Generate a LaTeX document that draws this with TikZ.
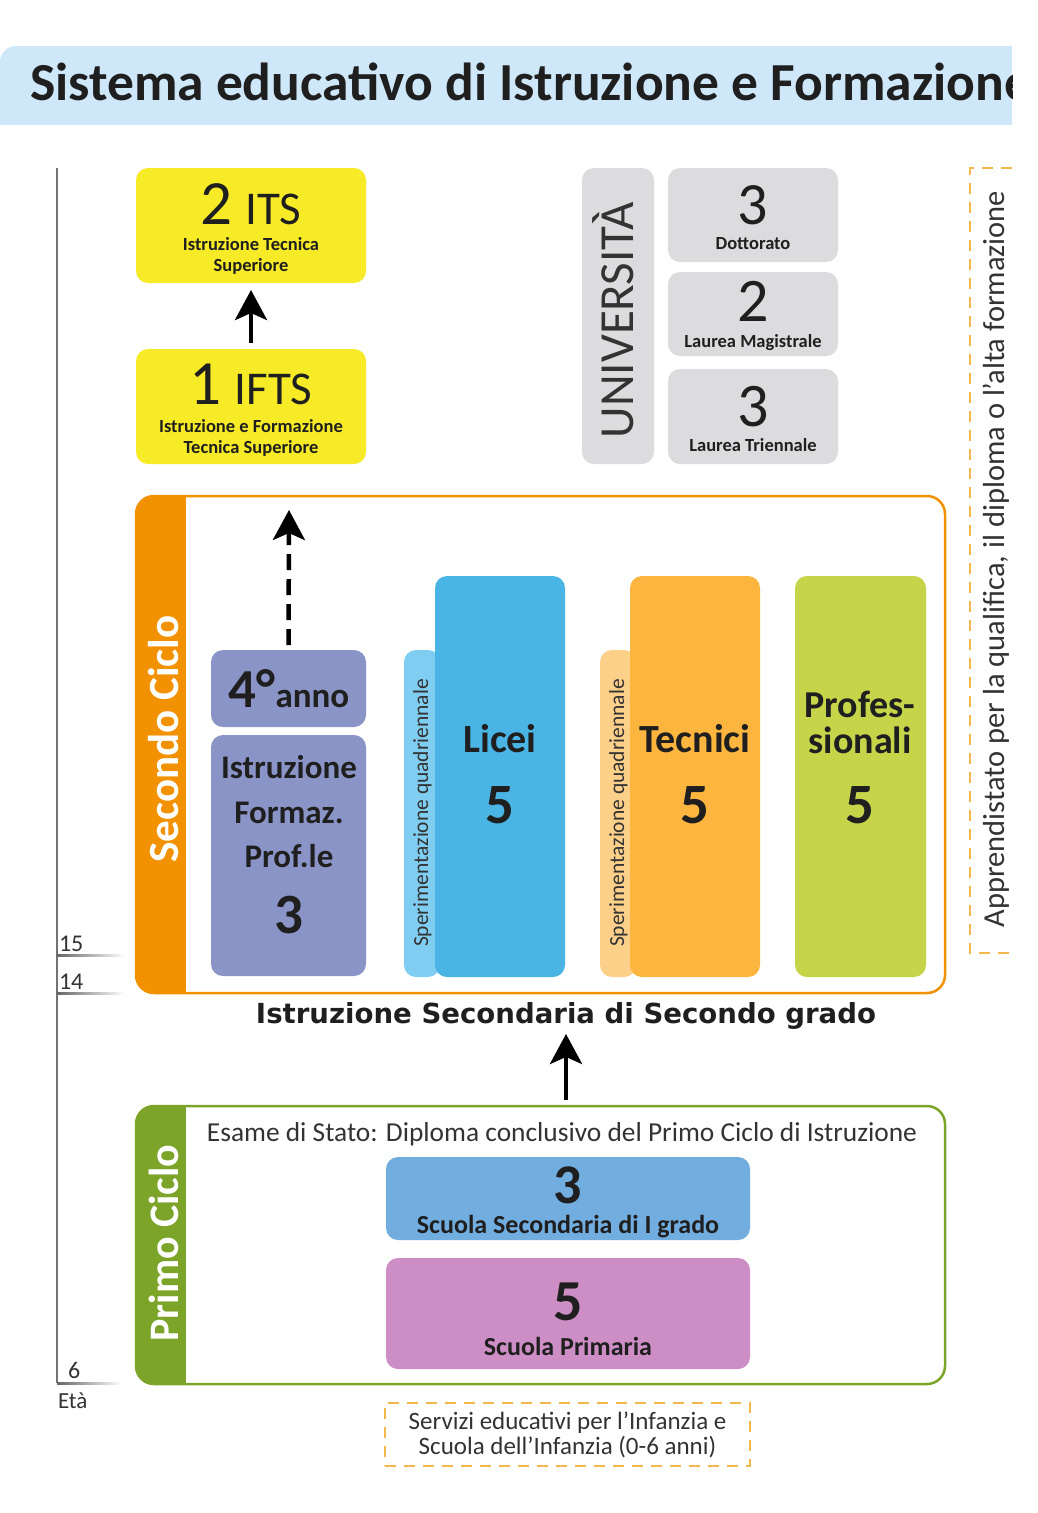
\documentclass[tikz,border=0pt]{standalone}
\usepackage{fontspec}
\usepackage{graphicx}
\setmainfont{Carlito}
\newfontfamily\dejavu{DejaVu Sans}
\usetikzlibrary{arrows.meta,calc}
\definecolor{titlebg}{HTML}{CFE8F9}
\definecolor{ylw}{HTML}{F7EA26}
\definecolor{unigrey}{HTML}{DCDCDE}
\definecolor{org}{HTML}{F39200}
\definecolor{purp}{HTML}{8B94C7}
\definecolor{liceo}{HTML}{4AB4E5}
\definecolor{liceol}{HTML}{80CDF2}
\definecolor{tecn}{HTML}{FCB53F}
\definecolor{tecnl}{HTML}{FDD089}
\definecolor{profc}{HTML}{C6D44A}
\definecolor{grn}{HTML}{7BA428}
\definecolor{secb}{HTML}{72ADE0}
\definecolor{prim}{HTML}{CD8EC5}
\definecolor{dashc}{HTML}{F2B84B}
\definecolor{txt}{HTML}{1F1F1F}
\definecolor{txtg}{HTML}{333333}
\newcommand{\fsz}[1]{\fontsize{#1}{#1}\selectfont}
\begin{document}
\begin{tikzpicture}[x=1pt,y=-1pt,
  every node/.style={inner sep=0pt, outer sep=0pt},
  blk/.style={rounded corners=12pt},
  lbl/.style={anchor=base, text=txt, align=center},
  rlbl/.style={anchor=base, rotate=90, text=txtg},
  arr/.style={line width=4.5pt, -{Stealth[length=30pt,width=32pt,inset=7pt]}},
  frame/.style={line width=2.5pt, rounded corners=18pt},
  dashbox/.style={draw=dashc, line width=2.5pt, dash pattern=on 11pt off 8pt},
  axis/.style={draw=black!55, line width=2pt},
]
\useasboundingbox (0,0) rectangle (1037,1513);
\fill[white] (0,0) rectangle (1037,1513);

% title
\begin{scope}
\clip[rounded corners=16pt] (0,46) rectangle (1080,170);
\clip (0,0) rectangle (1012,125);
\fill[titlebg] (0,46) rectangle (1012,125);
\node[anchor=base west, text=txt] (title) at (30,100) {\fsz{53.5}\bfseries Sistema educativo di Istruzione e Formazione};
\end{scope}

% age axis
\coordinate (axtop) at (57,168);
\coordinate (axbot) at (57,1383);
\draw[axis] (axtop) -- (axbot);
\shade[left color=black!60, right color=white] (57,954) rectangle (125,956.5);
\shade[left color=black!60, right color=white] (57,992) rectangle (125,994.5);
\shade[left color=black!60, right color=white] (57,1382) rectangle (122,1384.5);
\node[anchor=base west, text=txtg] (a15) at (59,951) {\fsz{24}15};
\node[anchor=base west, text=txtg] (a14) at (59,989) {\fsz{24}14};
\node[anchor=base west, text=txtg] (a6) at (68,1378) {\fsz{24}6};
\node[anchor=base west, text=txtg] (eta) at (58,1408) {\fsz{23}Età};

% ITS / IFTS
\node[blk, fill=ylw, minimum width=230pt, minimum height=115pt] (its) at (251,225.5) {};
\node[blk, fill=ylw, minimum width=230pt, minimum height=115pt] (ifts) at (251,406.5) {};
\node[lbl] (itsn) at (251,224) {{\fsz{63}2}\hspace{13pt}{\fsz{47}ITS}};
\node[lbl] (itst) at (251,250) {\fsz{18.5}\bfseries Istruzione Tecnica};
\node[lbl] (itst2) at (251,271) {\fsz{18.5}\bfseries Superiore};
\node[lbl] (iftsn) at (251,404) {{\fsz{63}1}\hspace{13pt}{\fsz{47}IFTS}};
\node[lbl] (iftst) at (251,432) {\fsz{18.5}\bfseries Istruzione e Formazione};
\node[lbl] (iftst2) at (251,453) {\fsz{18.5}\bfseries Tecnica Superiore};
\draw[arr, shorten <=6pt, shorten >=7pt] (ifts.north) -- (its.south);

% Universita
\node[blk, fill=unigrey, minimum width=72pt, minimum height=296pt] (univ) at (618,316) {};
\node[rlbl] (univt) at (633,320) {\fsz{49}UNIVERSITÀ};
\node[blk, fill=unigrey, minimum width=170pt, minimum height=94pt] (dott) at (753,215) {};
\node[blk, fill=unigrey, minimum width=170pt, minimum height=84pt] (mag) at (753,314) {};
\node[blk, fill=unigrey, minimum width=170pt, minimum height=95pt] (tri) at (753,416.5) {};
\node[lbl] (dottn) at (753,224) {\fsz{60}3};
\node[lbl] (dottt) at (753,249) {\fsz{18.5}\bfseries Dottorato};
\node[lbl] (magn) at (753,321) {\fsz{62}2};
\node[lbl] (magt) at (753,347) {\fsz{18.5}\bfseries Laurea Magistrale};
\node[lbl] (trin) at (753,426) {\fsz{62}3};
\node[lbl] (trit) at (753,451) {\fsz{18.5}\bfseries Laurea Triennale};

% Apprendistato
\draw[dashbox] (1012,168) -- (970,168) -- (970,953) -- (1012,953);
\node[rlbl] (appr) at (1004,559) {\fsz{30.5}Apprendistato per la qualifica, il diploma o l’alta formazione};

% Secondo ciclo
\begin{scope}
\clip[rounded corners=18pt] (136,496) rectangle (945,993);
\fill[org] (136,496) rectangle (186,993);
\end{scope}
\node[frame, draw=org, minimum width=809pt, minimum height=497pt] (sec) at (540.5,744.5) {};
\node[anchor=base, rotate=90, text=white] (secl) at (178,739) {\fsz{43}\bfseries Secondo Ciclo};

\node[blk, fill=purp, minimum width=155pt, minimum height=77pt] (quarto) at (288.5,688.5) {};
\node[blk, fill=purp, minimum width=155pt, minimum height=241pt] (iefp) at (288.5,855.5) {};
\node[lbl] (quartot) at (289,707) {\bfseries{\fsz{55}4°}{\fsz{35}anno}};
\node[lbl] (iefp1) at (289,778) {\fsz{33}\bfseries Istruzione};
\node[lbl] (iefp2) at (289,823) {\fsz{33}\bfseries Formaz.};
\node[lbl] (iefp3) at (289,867) {\fsz{33}\bfseries Prof.le};
\node[lbl] (iefp4) at (289,933) {\fsz{57}\bfseries 3};
\coordinate (dtop) at (289,510);
\draw[arr, dash pattern=on 16pt off 9pt, shorten <=5pt] (quarto.north) -- (dtop);

\node[blk, fill=liceol, minimum width=36pt, minimum height=327pt] (licstrip) at (422,813.5) {};
\node[blk, fill=liceo, minimum width=130pt, minimum height=401pt] (licei) at (500,776.5) {};
\node[rlbl] (licsp) at (428,813) {\fsz{21.5}Sperimentazione quadriennale};
\node[lbl] (licet) at (500,752) {\fsz{40}\bfseries Licei};
\node[lbl] (licen) at (500,823) {\fsz{57}\bfseries 5};

\node[blk, fill=tecnl, minimum width=36pt, minimum height=327pt] (tecstrip) at (618,813.5) {};
\node[blk, fill=tecn, minimum width=130pt, minimum height=401pt] (tec) at (695,776.5) {};
\node[rlbl] (tecsp) at (624,813) {\fsz{21.5}Sperimentazione quadriennale};
\node[lbl] (tect) at (695,752) {\fsz{40}\bfseries Tecnici};
\node[lbl] (tecn) at (695,823) {\fsz{57}\bfseries 5};

\node[blk, fill=profc, minimum width=131pt, minimum height=401pt] (prof) at (860.5,776.5) {};
\node[lbl] (proft1) at (860,717) {\fsz{38}\bfseries Profes-};
\node[lbl] (proft2) at (860,753) {\fsz{38}\bfseries sionali};
\node[lbl] (profn) at (860,823) {\fsz{57}\bfseries 5};

\node[lbl] (isg) at (566,1023) {\resizebox{620pt}{!}{\dejavu\bfseries\fsz{26}Istruzione Secondaria di Secondo grado}};

% Primo ciclo
\begin{scope}
\clip[rounded corners=18pt] (136,1106) rectangle (945,1384);
\fill[grn] (136,1106) rectangle (186,1384);
\end{scope}
\node[frame, draw=grn, minimum width=809pt, minimum height=278pt] (primo) at (540.5,1245) {};
\node[anchor=base, rotate=90, text=white] (priml) at (178,1243) {\fsz{42}\bfseries Primo Ciclo};
\draw[arr, shorten <=6pt, shorten >=5pt] (primo.north -| isg.south) -- (isg.south);

\node[lbl, text=txtg] (esame) at (562,1141) {\fsz{27.4}Esame di Stato: Diploma conclusivo del Primo Ciclo di Istruzione};
\node[blk, fill=secb, minimum width=364pt, minimum height=83pt] (ssig) at (568,1198.5) {};
\node[blk, fill=prim, minimum width=364pt, minimum height=111pt] (prima) at (568,1313.5) {};
\node[lbl] (ssign) at (568,1203) {\fsz{56}\bfseries 3};
\node[lbl] (ssigt) at (568,1233) {\fsz{26}\bfseries Scuola Secondaria di I grado};
\node[lbl] (priman) at (568,1320) {\fsz{58}\bfseries 5};
\node[lbl] (primat) at (568,1355) {\fsz{26}\bfseries Scuola Primaria};

\node[dashbox, minimum width=365pt, minimum height=63pt, align=center, text=txtg, font=\fsz{25}] (infanzia) at (567.5,1434.5) {Servizi educativi per l’Infanzia e\\Scuola dell’Infanzia (0-6 anni)};
\end{tikzpicture}
\end{document}
